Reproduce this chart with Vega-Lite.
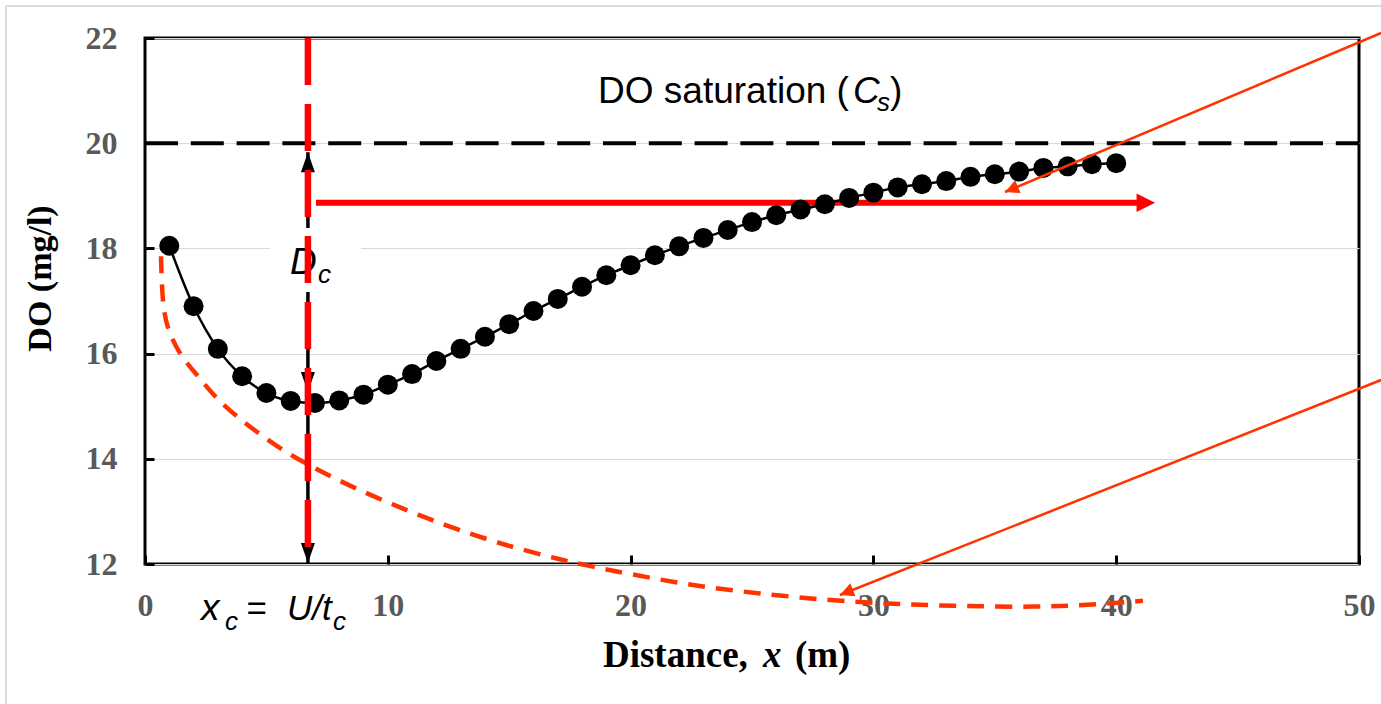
{
  "$schema": "https://vega.github.io/schema/vega-lite/v6.json",
  "width": 1214,
  "height": 526,
  "autosize": "none",
  "padding": {"left": 145, "top": 38, "right": 22, "bottom": 140},
  "background": "white",
  "config": {"view": {"stroke": "black", "strokeWidth": 3}},
  "datasets": {
    "do": [
      {"x": 1, "y": 18.05}, {"x": 2, "y": 16.9}, {"x": 3, "y": 16.09}, {"x": 4, "y": 15.57},
      {"x": 5, "y": 15.25}, {"x": 6, "y": 15.1}, {"x": 7, "y": 15.06}, {"x": 8, "y": 15.11},
      {"x": 9, "y": 15.22}, {"x": 10, "y": 15.41}, {"x": 11, "y": 15.61}, {"x": 12, "y": 15.86},
      {"x": 13, "y": 16.09}, {"x": 14, "y": 16.32}, {"x": 15, "y": 16.56}, {"x": 16, "y": 16.81},
      {"x": 17, "y": 17.04}, {"x": 18, "y": 17.27}, {"x": 19, "y": 17.49}, {"x": 20, "y": 17.68},
      {"x": 21, "y": 17.87}, {"x": 22, "y": 18.04}, {"x": 23, "y": 18.2}, {"x": 24, "y": 18.35},
      {"x": 25, "y": 18.5}, {"x": 26, "y": 18.63}, {"x": 27, "y": 18.74}, {"x": 28, "y": 18.84},
      {"x": 29, "y": 18.96}, {"x": 30, "y": 19.06}, {"x": 31, "y": 19.16}, {"x": 32, "y": 19.22},
      {"x": 33, "y": 19.28}, {"x": 34, "y": 19.36}, {"x": 35, "y": 19.41}, {"x": 36, "y": 19.46},
      {"x": 37, "y": 19.53}, {"x": 38, "y": 19.56}, {"x": 39, "y": 19.6}, {"x": 40, "y": 19.62}
    ],
    "deficit": [
      {"x": 0.66, "y": 17.85}, {"x": 0.7, "y": 17.3}, {"x": 0.78, "y": 16.85}, {"x": 0.95, "y": 16.49},
      {"x": 1.44, "y": 16.01}, {"x": 2.18, "y": 15.57}, {"x": 2.97, "y": 15.15}, {"x": 3.91, "y": 14.76},
      {"x": 4.86, "y": 14.43}, {"x": 5.85, "y": 14.12}, {"x": 6.85, "y": 13.86}, {"x": 7.95, "y": 13.6},
      {"x": 9.06, "y": 13.36}, {"x": 10.17, "y": 13.14}, {"x": 11.24, "y": 12.94}, {"x": 12.44, "y": 12.73},
      {"x": 14.74, "y": 12.38}, {"x": 17.09, "y": 12.09}, {"x": 18.45, "y": 11.95}, {"x": 20.1, "y": 11.8},
      {"x": 22.57, "y": 11.6}, {"x": 25.33, "y": 11.44}, {"x": 28.09, "y": 11.32}, {"x": 30.15, "y": 11.26},
      {"x": 31.51, "y": 11.23}, {"x": 33.86, "y": 11.2}, {"x": 36.57, "y": 11.19}, {"x": 38.63, "y": 11.22},
      {"x": 41.1, "y": 11.3}
    ]
  },
  "encoding": {
    "x": {
      "field": "x", "type": "quantitative",
      "scale": {"domain": [0, 50], "nice": false, "zero": false},
      "axis": {
        "title": null, "values": [0, 10, 20, 30, 40, 50], "grid": false, "domain": false,
        "tickSize": -9, "tickWidth": 3, "tickColor": "black",
        "labelFont": "Liberation Serif", "labelFontWeight": "bold", "labelFontSize": 32,
        "labelColor": "#595959", "labelBaseline": "alphabetic", "labelPadding": 60, "labelFlush": false
      }
    },
    "y": {
      "field": "y", "type": "quantitative",
      "scale": {"domain": [12, 22], "nice": false, "zero": false},
      "axis": {
        "title": "DO (mg/l)", "values": [12, 14, 16, 18, 20, 22], "grid": true,
        "gridColor": "#d9d9d9", "gridWidth": 1, "domain": false,
        "tickSize": -9, "tickWidth": 3, "tickColor": "black",
        "labelFont": "Liberation Serif", "labelFontWeight": "bold", "labelFontSize": 32,
        "labelColor": "#595959", "labelPadding": 37,
        "titleFont": "Liberation Serif", "titleFontWeight": "bold", "titleFontSize": 34,
        "titleColor": "black", "titleX": -95, "titleY": 240, "titleAngle": 270,
        "titleBaseline": "alphabetic", "titleAlign": "center"
      }
    }
  },
  "layer": [
    {
      "data": {"values": [
        {"x": -5.725, "y": 22.608, "x2": 50.91, "y2": 22.608},
        {"x": -5.725, "y": 22.608, "x2": -5.725, "y2": 9.34}
      ]},
      "mark": {"type": "rule", "color": "#d0d0d0", "strokeWidth": 1.5},
      "encoding": {"x2": {"field": "x2"}, "y2": {"field": "y2"}}
    },
    {
      "data": {"values": [{"x": 0, "y": 20, "x2": 50}]},
      "mark": {"type": "rule", "color": "black", "strokeWidth": 4, "strokeDash": [33, 12.8]},
      "encoding": {"x2": {"field": "x2"}}
    },
    {
      "data": {"name": "deficit"},
      "mark": {"type": "line", "color": "#ff3300", "strokeWidth": 4.5, "strokeDash": [17, 11], "interpolate": "catmull-rom"}
    },
    {
      "data": {"values": [{"x": 7.04, "y": 18.87, "x2": 41.2}]},
      "mark": {"type": "rule", "color": "#ff0000", "strokeWidth": 6},
      "encoding": {"x2": {"field": "x2"}}
    },
    {
      "data": {"name": "do"},
      "mark": {"type": "line", "color": "black", "strokeWidth": 2.5, "interpolate": "monotone"}
    },
    {
      "data": {"name": "do"},
      "mark": {"type": "point", "shape": "circle", "filled": true, "color": "black", "size": 400, "opacity": 1}
    },
    {
      "data": {"values": [{"x": 6.71, "y": 12.02, "y2": 19.83}]},
      "mark": {"type": "rule", "color": "black", "strokeWidth": 3.5},
      "encoding": {"y2": {"field": "y2"}}
    },
    {
      "data": {"values": [{"x": 5.15, "x2": 8.9, "y": 17.17, "y2": 18.39}]},
      "mark": {"type": "rect", "color": "white"},
      "encoding": {"x2": {"field": "x2"}, "y2": {"field": "y2"}}
    },
    {
      "data": {"values": [
        {"x": 6.71, "y": 19.83, "a": 0},
        {"x": 6.71, "y": 15.27, "a": 180},
        {"x": 6.71, "y": 12.02, "a": 180}
      ]},
      "mark": {"type": "point", "shape": "M0,0L-0.35,1L0.35,1Z", "filled": true, "color": "black", "size": 1600, "opacity": 1},
      "encoding": {"angle": {"field": "a", "type": "quantitative", "scale": null}}
    },
    {
      "data": {"values": [{"x": 5.97, "y": 17.51, "t": "D"}, {"x": 29.16, "y": 20.764, "t": "C"}]},
      "mark": {"type": "text", "font": "Liberation Sans", "fontStyle": "italic", "fontSize": 37, "align": "left", "baseline": "alphabetic", "color": "black"},
      "encoding": {"text": {"field": "t"}}
    },
    {
      "data": {"values": [{"x": 7.125, "y": 17.34, "t": "c"}, {"x": 30.15, "y": 20.612, "t": "s"}, {"x": 3.295, "y": 10.745, "t": "c"}, {"x": 7.74, "y": 10.745, "t": "c"}]},
      "mark": {"type": "text", "font": "Liberation Sans", "fontStyle": "italic", "fontSize": 26, "align": "left", "baseline": "alphabetic", "color": "black"},
      "encoding": {"text": {"field": "t"}}
    },
    {
      "data": {"values": [{"x": 6.71, "y": 22, "y2": 12}]},
      "mark": {"type": "rule", "color": "#ff0000", "strokeWidth": 6.5, "strokeDash": [47, 19]},
      "encoding": {"y2": {"field": "y2"}}
    },
    {
      "data": {"values": [{"x": 41.6, "y": 18.87, "a": 90}]},
      "mark": {"type": "point", "shape": "M0,0L-0.5,1L0.5,1Z", "filled": true, "color": "#ff0000", "size": 1369, "opacity": 1},
      "encoding": {"angle": {"field": "a", "type": "quantitative", "scale": null}}
    },
    {
      "data": {"values": [
        {"x": 50.91, "y": 22.095, "x2": 35.42, "y2": 19.072},
        {"x": 50.91, "y": 15.498, "x2": 28.62, "y2": 11.41}
      ]},
      "mark": {"type": "rule", "color": "#ff3300", "strokeWidth": 2.5},
      "encoding": {"x2": {"field": "x2"}, "y2": {"field": "y2"}}
    },
    {
      "data": {"values": [
        {"x": 35.42, "y": 19.072, "a": 247.4},
        {"x": 28.62, "y": 11.41, "a": 248.3}
      ]},
      "mark": {"type": "point", "shape": "M0,0L-0.5,1L0.5,1Z", "filled": true, "color": "#ff3300", "size": 784, "opacity": 1},
      "encoding": {"angle": {"field": "a", "type": "quantitative", "scale": null}}
    },
    {
      "data": {"values": [{"x": 18.66, "y": 20.764, "t": "DO saturation ("}, {"x": 30.68, "y": 20.764, "t": ")"}]},
      "mark": {"type": "text", "font": "Liberation Sans", "fontSize": 37, "align": "left", "baseline": "alphabetic", "color": "black"},
      "encoding": {"text": {"field": "t"}}
    },
    {
      "data": {"values": [{"x": 2.31, "y": 10.935, "t": "x"}]},
      "mark": {"type": "text", "font": "Liberation Sans", "fontStyle": "italic", "fontSize": 37, "align": "left", "baseline": "alphabetic", "color": "black"},
      "encoding": {"text": {"field": "t"}}
    },
    {
      "data": {"values": [{"x": 4.16, "y": 10.935, "t": "="}, {"x": 5.85, "y": 10.935, "t": "U/t"}]},
      "mark": {"type": "text", "font": "Liberation Sans", "fontStyle": "italic", "fontSize": 35, "align": "left", "baseline": "alphabetic", "color": "black"},
      "encoding": {"text": {"field": "t"}}
    },
    {
      "data": {"values": [{"x": 18.86, "y": 10.042, "t": "Distance,"}, {"x": 26.77, "y": 10.042, "t": "(m)"}]},
      "mark": {"type": "text", "font": "Liberation Serif", "fontWeight": "bold", "fontSize": 37, "align": "left", "baseline": "alphabetic", "color": "black"},
      "encoding": {"text": {"field": "t"}}
    },
    {
      "data": {"values": [{"x": 25.45, "y": 10.042, "t": "x"}]},
      "mark": {"type": "text", "font": "Liberation Serif", "fontWeight": "bold", "fontStyle": "italic", "fontSize": 37, "align": "left", "baseline": "alphabetic", "color": "black"},
      "encoding": {"text": {"field": "t"}}
    }
  ]
}
